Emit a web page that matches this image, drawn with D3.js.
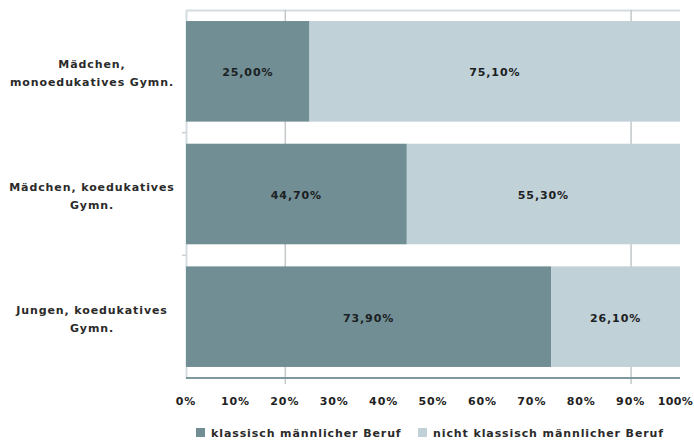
<!DOCTYPE html>
<html>
<head>
<meta charset="utf-8">
<script src="https://cdn.jsdelivr.net/npm/d3@7"></script>
<style>
  body { margin: 0; background: #fff; }
  svg { display: block; font-family: "DejaVu Sans", Verdana, sans-serif; }
</style>
</head>
<body>
<script>
let categories = [
  ["Mädchen,", "monoedukatives Gymn."],
  ["Mädchen, koedukatives", "Gymn."],
  ["Jungen, koedukatives", "Gymn."]
];
let seriesNames = ["klassisch männlicher Beruf", "nicht klassisch männlicher Beruf"];
let maleValues = [25.0, 44.7, 73.9];
let otherValues = [75.1, 55.3, 26.1];
let tickValues = [0, 10, 20, 30, 40, 50, 60, 70, 80, 90, 100];
let gridValues = [20, 90];

let colors = ["#718e95", "#c1d1d8"];

let width = 694, height = 441;
let plotLeft = 186, plotRight = 680, plotTop = 10, plotBottom = 378;
let spacing = "0.9px";

let svg = d3.select("body").append("svg")
    .attr("width", width)
    .attr("height", height);

let x = d3.scaleLinear().domain([0, 100]).range([plotLeft, plotRight]);
let y = d3.scaleBand().domain(d3.range(categories.length)).range([plotTop, plotBottom])
    .paddingInner(0.18).paddingOuter(0.09);

// frame lines
svg.append("line")
  .attr("x1", plotLeft).attr("x2", plotRight).attr("y1", plotTop + 0.5).attr("y2", plotTop + 0.5)
  .attr("stroke", "#d3dde1").attr("stroke-width", 2);
svg.append("line")
  .attr("x1", plotLeft + 0.5).attr("x2", plotLeft + 0.5).attr("y1", plotTop).attr("y2", plotBottom)
  .attr("stroke", "#d3dde1").attr("stroke-width", 2);

// grid
svg.append("g").selectAll("line")
  .data(gridValues)
  .enter().append("line")
  .attr("x1", d => x(d) + 0.5).attr("x2", d => x(d) + 0.5)
  .attr("y1", plotTop).attr("y2", plotBottom + 6)
  .attr("stroke", "#c4c8ca").attr("stroke-width", 1.5);

// category ticks between bands
svg.append("g").selectAll("line")
  .data([1, 2])
  .enter().append("line")
  .attr("x1", plotLeft - 4).attr("x2", plotLeft)
  .attr("y1", d => plotTop + (plotBottom - plotTop) * d / 3)
  .attr("y2", d => plotTop + (plotBottom - plotTop) * d / 3)
  .attr("stroke", "#c8d0d4").attr("stroke-width", 1.5);

let rows = categories.map((c, i) => ({i: i, a: maleValues[i], b: otherValues[i]}));

let bars = svg.append("g").selectAll("g")
  .data(rows)
  .enter().append("g");

bars.append("rect")
  .attr("x", x(0))
  .attr("y", d => y(d.i))
  .attr("width", d => x(d.a) - x(0))
  .attr("height", y.bandwidth())
  .attr("fill", colors[0]);

bars.append("rect")
  .attr("x", d => x(d.a))
  .attr("y", d => y(d.i))
  .attr("width", d => Math.min(x(d.a + d.b), plotRight) - x(d.a))
  .attr("height", y.bandwidth())
  .attr("fill", colors[1]);

let fmt = v => v.toFixed(2).replace(".", ",") + "%";

bars.append("text")
  .attr("x", d => (x(0) + x(d.a)) / 2)
  .attr("y", d => y(d.i) + y.bandwidth() / 2 + 1)
  .attr("dy", "0.35em")
  .attr("text-anchor", "middle")
  .attr("font-size", 11).attr("font-weight", "bold").attr("fill", "#1b2022")
  .attr("letter-spacing", spacing)
  .text(d => fmt(d.a));

bars.append("text")
  .attr("x", d => (x(d.a) + Math.min(x(d.a + d.b), plotRight)) / 2)
  .attr("y", d => y(d.i) + y.bandwidth() / 2 + 1)
  .attr("dy", "0.35em")
  .attr("text-anchor", "middle")
  .attr("font-size", 11).attr("font-weight", "bold").attr("fill", "#1b2022")
  .attr("letter-spacing", spacing)
  .text(d => fmt(d.b));

// bottom axis line
svg.append("line")
  .attr("x1", plotLeft).attr("x2", plotRight).attr("y1", plotBottom).attr("y2", plotBottom)
  .attr("stroke", "#7f989e").attr("stroke-width", 2);

// x tick labels (last one pulled in so it stays inside the page)
svg.append("g").selectAll("text")
  .data(tickValues)
  .enter().append("text")
  .attr("x", d => d === 100 ? width - 1 : x(d))
  .attr("y", 405)
  .attr("text-anchor", d => d === 100 ? "end" : "middle")
  .attr("font-size", 11).attr("font-weight", "bold").attr("fill", "#222")
  .attr("letter-spacing", d => d === 100 ? "0.3px" : spacing)
  .text(d => d + "%");

// category labels
let cat = svg.append("g").selectAll("text")
  .data(categories)
  .enter().append("text")
  .attr("text-anchor", "middle")
  .attr("font-size", 11).attr("font-weight", "bold").attr("fill", "#2a2a2a")
  .attr("letter-spacing", spacing);

cat.selectAll("tspan")
  .data((d, i) => d.map((t, j) => ({t: t, j: j, i: i})))
  .enter().append("tspan")
  .attr("x", 92)
  .attr("y", d => y(d.i) + y.bandwidth() / 2 - 3 + d.j * 18)
  .text(d => d.t);

// legend
let legendX = [196, 418];
let legend = svg.append("g").selectAll("g")
  .data(seriesNames)
  .enter().append("g")
  .attr("transform", (d, i) => "translate(" + legendX[i] + ",428)");

legend.append("rect")
  .attr("width", 9).attr("height", 9)
  .attr("fill", (d, i) => colors[i]);

legend.append("text")
  .attr("x", 15).attr("y", 9)
  .attr("font-size", 11).attr("font-weight", "bold").attr("fill", "#2a2a2a")
  .attr("letter-spacing", spacing)
  .text(d => d);
</script>
</body>
</html>
